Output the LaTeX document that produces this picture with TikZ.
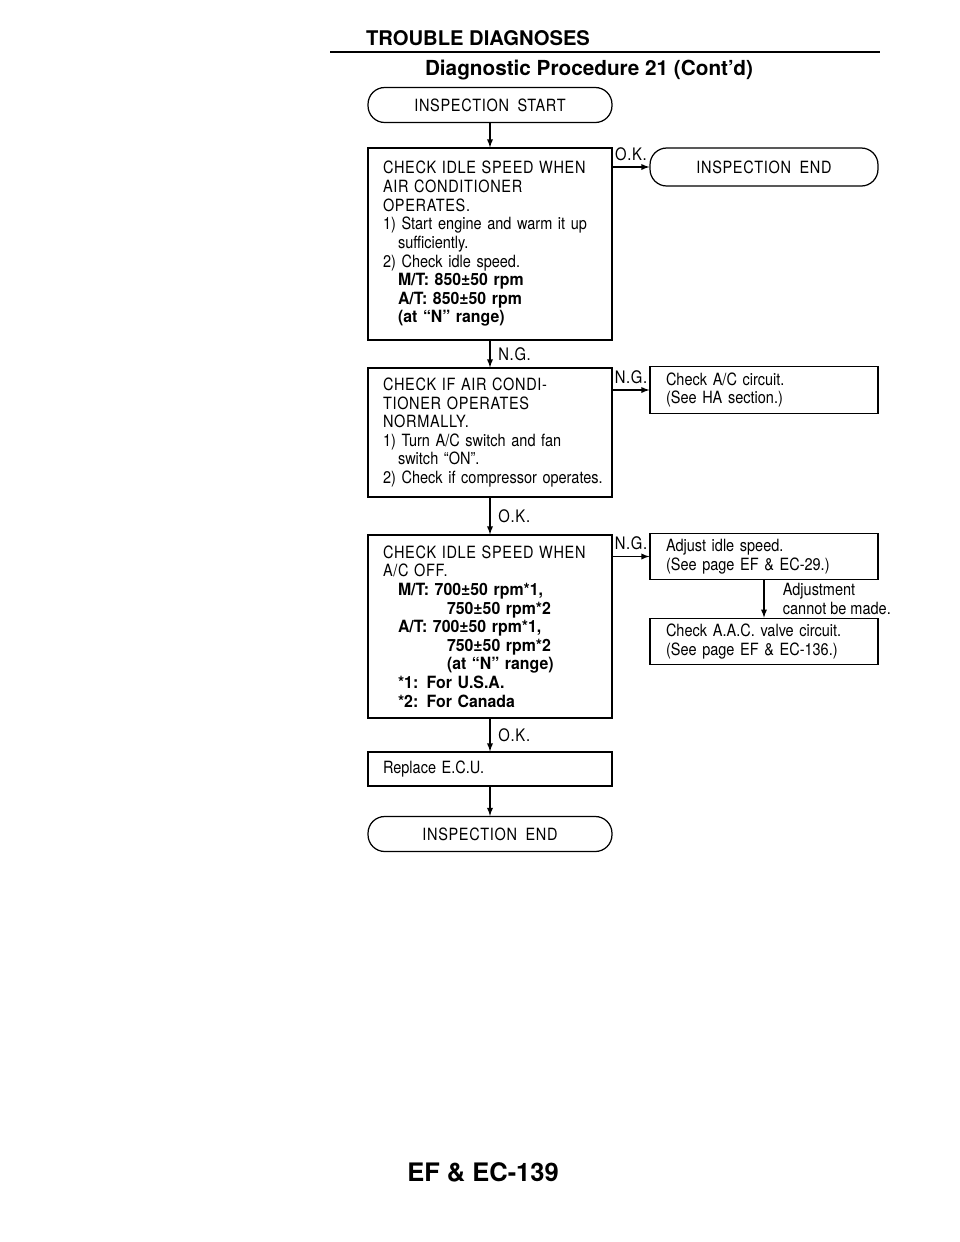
\documentclass[tikz,border=0pt]{standalone}
\usepackage{fontspec}
\setmainfont{TeX Gyre Heros}
\newfontfamily\boxfont[FakeStretch=0.86, BoldFeatures={FakeStretch=0.94}]{TeX Gyre Heros}
\newfontfamily\capsfont[FakeStretch=0.86,LetterSpace=4,WordSpace=1.8]{TeX Gyre Heros}
\usetikzlibrary{arrows}

\tikzset{
	startend/.style={draw, line width=0.7pt, rounded corners=9.5pt, minimum width=4.88cm, minimum height=0.7cm, font=\capsfont\fontsize{9.6}{10.6}\selectfont},
	stepbox/.style={draw, line width=0.7pt, text width=4.28cm, inner xsep=0.3cm, align=left, font=\boxfont\fontsize{9.6}{10.6}\selectfont},
	notebox/.style={draw, line width=0.7pt, text width=3.92cm, inner xsep=0.32cm, minimum height=0.88cm, align=left, font=\boxfont\fontsize{9.6}{10.6}\selectfont},
	lbl/.style={font=\capsfont\fontsize{9.8}{10}\selectfont, inner sep=1.5pt},
	flow/.style={-latex, line width=0.6pt}
}

\begin{document}
\begin{tikzpicture}[x=0.02cm, y=-0.02cm]
\useasboundingbox (0,0) rectangle (960,1242);

% page heading
\path (478,38) node (head) {\fontsize{11.5}{13}\selectfont\bfseries TROUBLE DIAGNOSES};
\draw [line width=1.3pt] (330,52) -- (880,52);
\path (589,70) node (sub) {\fontsize{11.8}{13}\selectfont\bfseries Diagnostic Procedure 21 (Cont'd)};

% main column
\path (490,105) node[startend] (start) {INSPECTION START};
\path (490,244) node[stepbox, minimum height=3.84cm] (idleac) {%
{\capsfont CHECK IDLE SPEED WHEN}\\
{\capsfont AIR CONDITIONER}\\
{\capsfont OPERATES.}\\
1) Start engine and warm it up\\
\hspace*{0.3cm}sufficiently.\\
2) Check idle speed.\\
\hspace*{0.3cm}{\bfseries M/T: 850±50 rpm}\\
\hspace*{0.3cm}{\bfseries A/T: 850±50 rpm}\\
\hspace*{0.3cm}{\bfseries (at “N” range)}};
\path (490,432.5) node[stepbox, minimum height=2.58cm] (acop) {%
{\capsfont CHECK IF AIR CONDI-}\\
{\capsfont TIONER OPERATES}\\
{\capsfont NORMALLY.}\\
1) Turn A/C switch and fan\\
\hspace*{0.3cm}switch “ON”.\\
\mbox{2) Check if compressor operates.}};
\path (490,626.5) node[stepbox, minimum height=3.66cm] (idleoff) {%
{\capsfont CHECK IDLE SPEED WHEN}\\
{\capsfont A/C OFF.}\\
\hspace*{0.3cm}{\bfseries M/T: 700±50 rpm*1,}\\
\hspace*{1.28cm}{\bfseries 750±50 rpm*2}\\
\hspace*{0.3cm}{\bfseries A/T: 700±50 rpm*1,}\\
\hspace*{1.28cm}{\bfseries 750±50 rpm*2}\\
\hspace*{1.28cm}{\bfseries (at “N” range)}\\
\hspace*{0.3cm}{\bfseries *1: For U.S.A.}\\
\hspace*{0.3cm}{\bfseries *2: For Canada}};
\path (490,769) node[stepbox, minimum height=0.68cm] (ecu) {Replace E.C.U.};
\path (490,834) node[startend] (end2) {INSPECTION END};

% right column
\path (764,167) node[startend, minimum width=4.56cm, minimum height=0.76cm] (end1) {INSPECTION END};
\path (764,390) node[notebox] (accirc) {Check A/C circuit.\\(See HA section.)};
\path (764,556.5) node[notebox] (adjust) {Adjust idle speed.\\(See page EF \& EC-29.)};
\path (764,641.5) node[notebox] (aacv) {Check A.A.C. valve circuit.\\(See page EF \& EC-136.)};

% connectors
\draw [flow] (start) -- (idleac);
\draw [flow] (idleac.east |- end1.west) -- node[lbl, above=2pt] {O.K.} (end1.west);
\draw [flow] (idleac) -- node[lbl, right=3pt] {N.G.} (acop);
\draw [flow] (acop.east |- accirc.west) -- node[lbl, above=2pt] {N.G.} (accirc.west);
\draw [flow] (acop) -- node[lbl, right=3pt] {O.K.} (idleoff);
\draw [flow] (idleoff.east |- adjust.west) -- node[lbl, above=2pt] {N.G.} (adjust.west);
\draw [flow] (adjust) -- node[right=0.25cm, align=left, font=\boxfont\fontsize{9.6}{10.6}\selectfont] {Adjustment\\cannot be made.} (aacv);
\draw [flow] (idleoff) -- node[lbl, right=3pt] {O.K.} (ecu);
\draw [flow] (ecu) -- (end2);

\path (483,1172) node (page) {\fontsize{14.5}{16}\selectfont\bfseries EF \& EC-139};

\end{tikzpicture}
\end{document}
